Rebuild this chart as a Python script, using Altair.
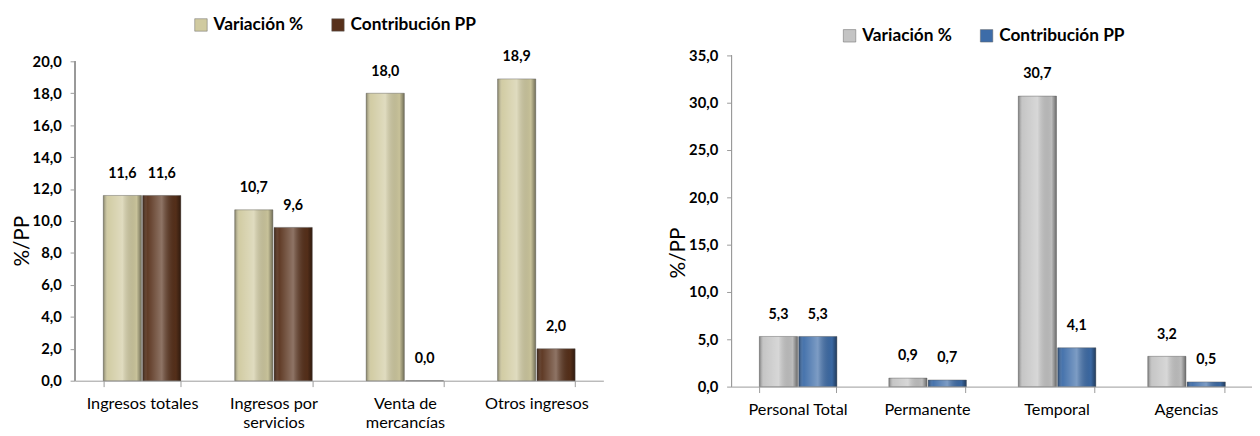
import altair as alt
import pandas as pd

SERIES = ["Variación %", "Contribución PP"]

left_categories = ["Ingresos totales", "Ingresos por servicios", "Venta de mercancías", "Otros ingresos"]
left_variacion = [11.6, 10.7, 18.0, 18.9]
left_contribucion = [11.6, 9.6, 0.0, 2.0]
left_ticks = [0, 2, 4, 6, 8, 10, 12, 14, 16, 18, 20]

right_categories = ["Personal Total", "Permanente", "Temporal", "Agencias"]
right_variacion = [5.3, 0.9, 30.7, 3.2]
right_contribucion = [5.3, 0.7, 4.1, 0.5]
right_ticks = [0, 5, 10, 15, 20, 25, 30, 35]

LABEL_EXPR_X = ("datum.label == 'Ingresos por servicios' ? ['Ingresos por', 'servicios'] : "
                "datum.label == 'Venta de mercancías' ? ['Venta de', 'mercancías'] : datum.label")
AXIS_GRAY = "#9a9a9a"

bevel = alt.LinearGradient(
    gradient="linear", x1=0, x2=1, y1=0, y2=0,
    stops=[
        alt.GradientStop(color="rgba(0,0,0,0.38)", offset=0),
        alt.GradientStop(color="rgba(255,255,255,0.05)", offset=0.13),
        alt.GradientStop(color="rgba(255,255,255,0.33)", offset=0.5),
        alt.GradientStop(color="rgba(0,0,0,0.04)", offset=0.87),
        alt.GradientStop(color="rgba(0,0,0,0.45)", offset=1),
    ],
)


def panel(categories, variacion, contribucion, colors, ticks, y_max, height, width,
          legend_x, legend_y, title_y):
    rows = []
    for c, v, k in zip(categories, variacion, contribucion):
        rows.append({"cat": c, "serie": SERIES[0], "val": v})
        rows.append({"cat": c, "serie": SERIES[1], "val": k})
    df = pd.DataFrame(rows)
    df["lbl"] = df["val"].map(lambda v: f"{v:.1f}".replace(".", ","))

    x = alt.X("cat:N", sort=categories,
              scale=alt.Scale(paddingInner=0.41, paddingOuter=0.215),
              axis=alt.Axis(title=None, labelAngle=0, labelExpr=LABEL_EXPR_X, tickBand="extent",
                            labelFontSize=16.5, labelColor="black", labelPadding=9, labelLineHeight=20,
                            domainColor=AXIS_GRAY, tickColor=AXIS_GRAY, tickSize=6))
    xo = alt.XOffset("serie:N", sort=SERIES, scale=alt.Scale(paddingInner=0.03))
    y_scale = alt.Scale(domain=[0, y_max], nice=False)
    y_axis = alt.Axis(values=ticks, grid=False, title="%/PP", titleFontSize=21,
                      titleFontWeight="normal", titleColor="black", titlePadding=0,
                      titleY=title_y,
                      labelExpr="replace(format(datum.value, '.1f'), '.', ',')",
                      labelFontSize=15, labelFontWeight="bold", labelColor="black",
                      labelPadding=9, labelOverlap=False, domain=False,
                      tickColor=AXIS_GRAY, tickSize=5)
    y = alt.Y("val:Q", scale=y_scale, axis=y_axis)
    color = alt.Color("serie:N", sort=SERIES,
                      scale=alt.Scale(domain=SERIES, range=colors),
                      legend=alt.Legend(orient="none", legendX=legend_x, legendY=legend_y,
                                        direction="horizontal", title=None, labelFontSize=17.5,
                                        labelFontWeight="bold", labelColor="black",
                                        symbolType="square", symbolSize=160, columnPadding=26,
                                        symbolStrokeColor="#666", symbolStrokeWidth=0.5))
    base = alt.Chart(df)
    axis_line = alt.Chart(df).mark_rule(color=AXIS_GRAY, strokeWidth=1).encode(
        x=alt.value(0),
        y=alt.Y(datum=ticks[0], type="quantitative", scale=y_scale, axis=y_axis),
        y2=alt.Y2(datum=ticks[-1]))
    bars = base.mark_bar().encode(x=x, xOffset=xo, y=y, color=color)
    shade = base.mark_bar(color=bevel, stroke="#555", strokeWidth=0.7, strokeOpacity=0.6).encode(
        x=x, xOffset=xo, y=y)
    text = base.mark_text(dy=-22, fontWeight="bold", fontSize=14.5, color="black").encode(
        x=x, xOffset=xo, y=y, text="lbl:N")
    return alt.layer(bars, shade, text, axis_line).properties(width=width, height=height)


left = panel(left_categories, left_variacion, left_contribucion,
             ["#d0caa0", "#57301a"], left_ticks, 20.37, 330, 536, 119, -40, 188)
right = panel(right_categories, right_variacion, right_contribucion,
              ["#c4c4c4", "#3d6ca8"], right_ticks, 35, 336, 528, 111, -29, 200)

chart = alt.hconcat(left, right, spacing=130, bounds="flush").resolve_scale(
    color="independent", x="independent", y="independent"
).configure(
    font="Lato", padding={"left": 3, "top": 5, "right": 0, "bottom": 0}
).configure_view(stroke=None)

chart.save("out.html", embed_options={"renderer": "svg", "actions": False})
